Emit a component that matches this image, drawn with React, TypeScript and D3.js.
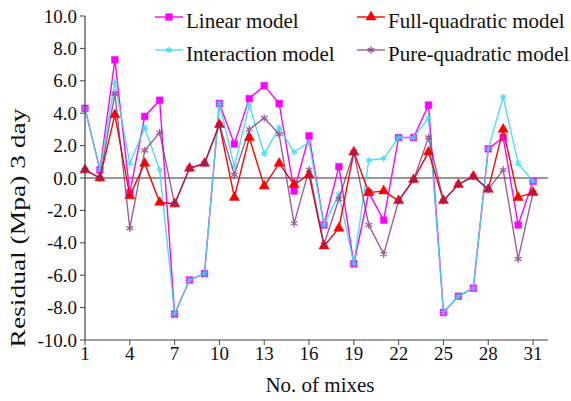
import React from 'react';
import * as d3 from 'd3';

// mixes 1..31
const mixes = d3.range(1, 32);
const linear = [4.3, 0.5, 7.3, -0.9, 3.8, 4.8, -8.4, -6.3, -5.9, 4.6, 2.1, 4.9, 5.7, 4.6, -0.8, 2.6, -2.9, 0.7, -5.3, -0.9, -2.6, 2.5, 2.5, 4.5, -8.3, -7.3, -6.8, 1.8, 2.5, -2.9, -0.2];
const interaction = [4.3, 0.5, 5.9, 0.9, 3.1, 0.5, -8.4, -6.3, -5.9, 4.6, 0.7, 4.5, 1.5, 3.1, 1.6, 2.2, -2.9, -1.0, -5.3, 1.1, 1.2, 2.5, 2.5, 3.7, -8.3, -7.3, -6.8, 1.8, 5.0, 0.9, -0.2];
const fullQuad = [0.5, 0.0, 3.9, -1.1, 0.9, -1.5, -1.6, 0.6, 0.9, 3.3, -1.2, 2.5, -0.5, 0.9, -0.4, 0.2, -4.2, -3.1, 1.6, -0.9, -0.8, -1.4, -0.1, 1.6, -1.4, -0.4, 0.1, -0.7, 3.0, -1.2, -0.9];
const pureQuad = [0.5, 0.0, 5.2, -3.1, 1.7, 2.8, -1.6, 0.6, 0.9, 3.3, 0.2, 3.0, 3.7, 2.7, -2.8, 0.5, -4.1, -1.3, 1.6, -2.9, -4.7, -1.4, -0.1, 2.5, -1.4, -0.4, 0.1, -0.7, 0.5, -5.0, -0.9];
const xTicks = [1, 4, 7, 10, 13, 16, 19, 22, 25, 28, 31];
const yTicks = d3.range(-10, 10.1, 2);

const series = [
  { name: 'Linear model', values: linear, color: '#ff00ff', symbol: d3.symbolSquare, size: 45, fill: true, opacity: 1 },
  { name: 'Interaction model', values: interaction, color: '#3cdcf0', symbol: d3.symbolAsterisk, size: 30, fill: false, opacity: 0.9 },
  { name: 'Full-quadratic model', values: fullQuad, color: '#ff0000', symbol: d3.symbolTriangle, size: 45, fill: true, opacity: 1 },
  { name: 'Pure-quadratic model', values: pureQuad, color: '#7a2a78', symbol: d3.symbolAsterisk, size: 40, fill: false, opacity: 0.75 },
];

const FONT = '"Liberation Serif", "Times New Roman", serif';

export default function App() {
  const width = 571;
  const height = 401;

  const x = d3.scaleLinear().domain([1, 32]).range([85, 548]);
  const y = d3.scaleLinear().domain([-10, 10]).range([340, 16]);

  const line = d3.line<number>()
    .x((d, i) => x(mixes[i]))
    .y(d => y(d));

  // legend anchor: start of sample line, y of sample line
  const legendPos = [
    [155, 17], [155, 50], [357, 17], [357, 50],
  ];

  return (
    <svg width={width} height={height} style={{ position: 'absolute', left: 0, top: 0, background: '#fff' }}>
      {/* zero line */}
      <line x1={x(1)} x2={548} y1={y(0)} y2={y(0)} stroke="#333" strokeWidth={1.2} />

      {/* series */}
      {series.map(s => (
        <g key={s.name} opacity={s.opacity}>
          <path d={line(s.values) || ''} fill="none" stroke={s.color} strokeWidth={1.4} />
          {s.values.map((v, i) => (
            <path
              key={i}
              transform={`translate(${x(mixes[i])},${y(v)})`}
              d={d3.symbol(s.symbol, s.size)() || ''}
              fill={s.fill ? s.color : 'none'}
              stroke={s.color}
              strokeWidth={s.fill ? 0.5 : 1.3}
            />
          ))}
        </g>
      ))}

      {/* y axis */}
      <g fontFamily={FONT} fontSize={19} fill="#111">
        <line x1={85} x2={85} y1={y(10)} y2={y(-10)} stroke="#444" strokeWidth={1.2} />
        {yTicks.map(t => (
          <g key={t} transform={`translate(85,${y(t)})`}>
            <line x1={-5} x2={0} stroke="#444" />
            <text x={-8} dy="0.35em" textAnchor="end">{t.toFixed(1)}</text>
          </g>
        ))}
      </g>

      {/* x axis */}
      <g fontFamily={FONT} fontSize={19} fill="#111">
        <line x1={85} x2={548} y1={y(-10)} y2={y(-10)} stroke="#444" strokeWidth={1.2} />
        {xTicks.map(t => (
          <g key={t} transform={`translate(${x(t)},${y(-10)})`}>
            <line y1={0} y2={5} stroke="#444" />
            <text y={20} textAnchor="middle">{t}</text>
          </g>
        ))}
      </g>

      {/* axis titles */}
      <text x={320} y={392} textAnchor="middle" fontFamily={FONT} fontSize={21} fill="#111">No. of mixes</text>
      <text transform="translate(25,228) rotate(-90) scale(1.25,1)" textAnchor="middle" fontFamily={FONT} fontSize={22} fill="#111">Residual (Mpa) 3 day</text>

      {/* legend */}
      {series.map((s, i) => {
        const [lx, ly] = legendPos[i];
        return (
          <g key={s.name} transform={`translate(${lx},${ly})`}>
            <line x1={0} x2={28} stroke={s.color} strokeWidth={1.4} opacity={s.opacity} />
            <path
              transform="translate(14,0)"
              d={d3.symbol(s.symbol, s.size)() || ''}
              fill={s.fill ? s.color : 'none'}
              stroke={s.color}
              strokeWidth={s.fill ? 0.5 : 1.3}
              opacity={s.opacity}
            />
            <text x={31} y={11} fontFamily={FONT} fontSize={21} fill="#111">{s.name}</text>
          </g>
        );
      })}
    </svg>
  );
}
